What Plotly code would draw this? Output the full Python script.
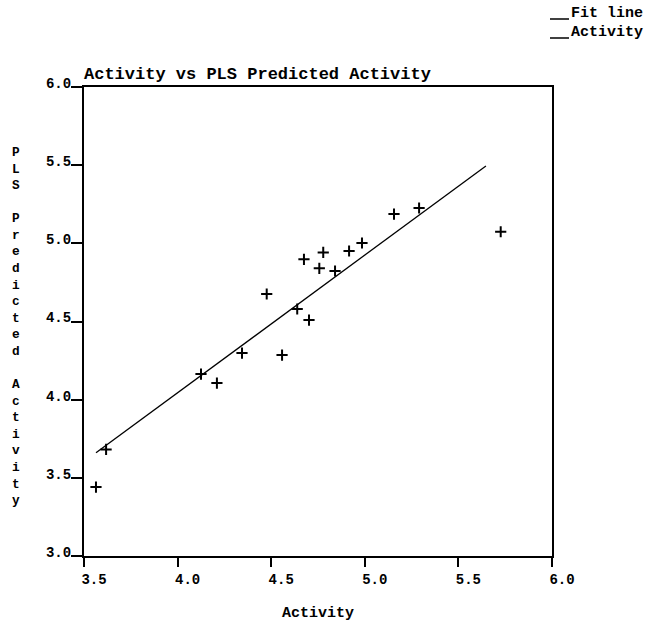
import plotly.graph_objects as go

# ---- data ----
activity = [3.564, 3.618, 4.125, 4.210, 4.344, 4.476, 4.558, 4.639, 4.675,
            4.702, 4.757, 4.778, 4.841, 4.916, 4.985, 5.156, 5.290, 5.726]
predicted = [3.441, 3.682, 4.164, 4.106, 4.298, 4.676, 4.285, 4.580, 4.898,
             4.509, 4.840, 4.942, 4.823, 4.951, 5.002, 5.187, 5.226, 5.074]
fit_x = [3.564, 5.647]
fit_y = [3.660, 5.495]

x_tickvals = [3.5, 4.0, 4.5, 5.0, 5.5, 6.0]
x_ticktext = ["3.5", "4.0", "4.5", "5.0", "5.5", "6.0"]
y_tickvals = [3.0, 3.5, 4.0, 4.5, 5.0, 5.5, 6.0]
y_ticktext = ["3.0", "3.5", "4.0", "4.5", "5.0", "5.5", "6.0"]

title_text = "Activity vs PLS Predicted Activity"
x_title = "Activity"
y_title = "PLS Predicted Activity"
legend_names = ["Fit line", "Activity"]

FONT = "Liberation Mono"
W, H = 648, 624
L, R, T, B = 84, 96, 87, 68
PW, PH = W - L - R, H - T - B


def px2paper_x(px):
    return (px - L) / PW


def px2paper_y(py):
    return (H - B - py) / PH


fig = go.Figure()
fig.add_trace(go.Scatter(
    x=fit_x, y=fit_y, mode="lines", name=legend_names[0],
    line=dict(color="black", width=1.3), showlegend=False))
fig.add_trace(go.Scatter(
    x=activity, y=predicted, mode="markers", name=legend_names[1],
    marker=dict(symbol="cross-thin", size=8, color="black",
                line=dict(color="black", width=2)),
    showlegend=False))

axis_common = dict(
    showline=True, linecolor="black", linewidth=2, mirror=True,
    showgrid=False, zeroline=False, ticks="outside", tickcolor="black",
    tickwidth=1.5, automargin=False,
    tickfont=dict(family=FONT, size=14, color="black", weight="bold"),
)

fig.update_layout(
    width=W, height=H,
    margin=dict(l=L, r=R, t=T, b=B, pad=0, autoexpand=False),
    paper_bgcolor="white", plot_bgcolor="white",
    showlegend=False,
    title=dict(text=title_text, x=0, xref="paper", xanchor="left",
               y=1 - 73 / H, yref="container", yanchor="middle",
               font=dict(family=FONT, size=17, color="black", weight="bold")),
    xaxis=dict(range=[3.5, 6.0], tickvals=x_tickvals, ticktext=x_ticktext,
               ticklen=9, ticklabelshift=10,
               title=dict(text=x_title, standoff=20,
                          font=dict(family=FONT, size=15, color="black", weight="bold")),
               **axis_common),
    yaxis=dict(range=[3.0, 6.0], tickvals=y_tickvals, ticktext=y_ticktext,
               ticklen=11, ticklabelshift=-4, ticklabelstandoff=-3, **axis_common),
)

# vertical stacked y-axis title
fig.add_annotation(
    text="<br>".join(ch if ch != " " else "&nbsp;" for ch in y_title),
    xref="paper", yref="paper", x=px2paper_x(16), y=px2paper_y(326),
    xanchor="center", yanchor="middle", showarrow=False, align="center",
    font=dict(family=FONT, size=12.75, color="black", weight="bold"))

# legend at top right (line + label)
for i, name in enumerate(legend_names):
    ty = 13 + 19 * i
    fig.add_annotation(
        text=name, xref="paper", yref="paper",
        x=px2paper_x(569), y=px2paper_y(ty), xanchor="left", yanchor="middle",
        showarrow=False,
        font=dict(family=FONT, size=15, color="black", weight="bold"))
    fig.add_shape(
        type="line", xref="paper", yref="paper",
        x0=px2paper_x(550), x1=px2paper_x(569),
        y0=px2paper_y(ty + 6), y1=px2paper_y(ty + 6),
        line=dict(color="black", width=1.5))

fig.write_html(
    "out.html",
    config={"displayModeBar": False},
    post_script="document.body.style.margin='0';document.body.style.overflow='hidden';",
)
